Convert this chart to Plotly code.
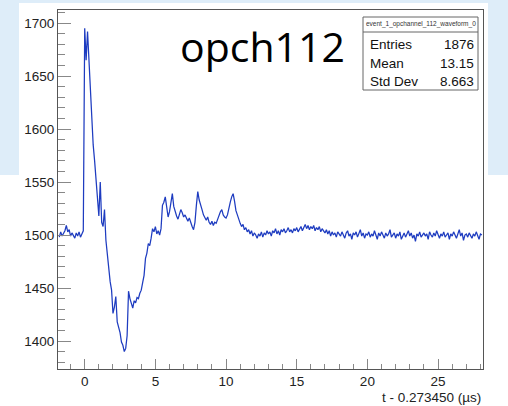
import plotly.graph_objects as go

# ---- data ----
t_start = -1.8
t_step = 0.1
adc = [
    # -1.8 .. -0.1
    1498, 1503, 1499, 1501, 1504, 1509, 1503, 1505, 1499, 1502, 1500, 1497, 1502, 1499, 1503, 1498, 1501, 1504,
    # 0.0 .. 0.9
    1695, 1665, 1692, 1665, 1630, 1600, 1585, 1570, 1555, 1538,
    # 1.0 .. 1.9
    1518, 1550, 1512, 1508, 1524, 1495, 1480, 1468, 1456, 1448,
    # 2.0 .. 2.9
    1426, 1432, 1442, 1418, 1414, 1408, 1399, 1396, 1390, 1393,
    # 3.0 .. 3.9
    1405, 1447, 1440, 1435, 1431, 1438, 1436, 1441, 1440, 1445,
    # 4.0 .. 4.9
    1448, 1455, 1462, 1478, 1483, 1492, 1490, 1497, 1506, 1503,
    # 5.0 .. 5.9
    1508, 1501, 1504, 1500, 1506, 1528, 1531, 1536, 1526, 1517,
    # 6.0 .. 6.9
    1522, 1530, 1539, 1527, 1522, 1518, 1515, 1519, 1524, 1521,
    # 7.0 .. 7.9
    1517, 1519, 1515, 1513, 1516, 1511, 1508, 1505, 1512, 1528,
    # 8.0 .. 8.9
    1541, 1533, 1527, 1524, 1519, 1516, 1514, 1517, 1512, 1510,
    # 9.0 .. 9.9
    1513, 1509, 1512, 1511, 1515, 1518, 1522, 1524, 1519, 1517,
    # 10.0 .. 10.9
    1516, 1519, 1526, 1531, 1536, 1539, 1532, 1523, 1519, 1514,
    # 11.0 .. 11.9
    1511, 1508, 1510, 1505, 1507, 1503, 1505, 1501, 1504, 1499,
    # 12.0 .. 12.9
    1502, 1500, 1497, 1501, 1499, 1503, 1498, 1502, 1500, 1504,
    # 13.0 .. 13.9
    1501, 1503, 1499, 1504, 1502, 1506, 1501, 1504, 1500, 1505,
    # 14.0 .. 14.9
    1503, 1506, 1502, 1504, 1507, 1503, 1505, 1502, 1506, 1504,
    # 15.0 .. 15.9
    1507, 1503, 1505, 1508, 1504, 1507, 1510, 1506, 1509, 1505,
    # 16.0 .. 16.9
    1508, 1506, 1509, 1504, 1507, 1505, 1508, 1503, 1506, 1504,
    # 17.0 .. 17.9
    1502, 1505, 1501, 1504, 1499, 1503, 1500, 1502, 1498, 1503,
    # 18.0 .. 18.9
    1501, 1499, 1503, 1500, 1497, 1502, 1504, 1499, 1501, 1496,
    # 19.0 .. 19.9
    1502, 1500, 1503, 1498, 1501, 1505, 1499, 1502, 1497, 1501,
    # 20.0 .. 20.9
    1500, 1503, 1498, 1501, 1499, 1504, 1500, 1496, 1502, 1499,
    # 21.0 .. 21.9
    1503, 1500, 1497, 1502, 1499, 1501, 1505, 1498, 1500, 1502,
    # 22.0 .. 22.9
    1497, 1501, 1499, 1503, 1496, 1500, 1502, 1498, 1501, 1504,
    # 23.0 .. 23.9
    1499, 1502, 1497, 1500, 1494, 1501, 1499, 1503, 1498, 1500,
    # 24.0 .. 24.9
    1502, 1499, 1501, 1496, 1503, 1500, 1498, 1502, 1499, 1504,
    # 25.0 .. 25.9
    1500, 1497, 1501, 1499, 1503, 1498, 1500, 1502, 1496, 1501,
    # 26.0 .. 26.9
    1499, 1503, 1500, 1497, 1501, 1505, 1499, 1502, 1495, 1500,
    # 27.0 .. 27.9
    1501, 1498, 1502, 1500, 1497, 1501, 1499, 1503, 1500, 1496,
    # 28.0 .. 28.1
    1501, 1500,
]
t = [round(t_start + t_step * i, 4) for i in range(len(adc))]

title_text = "opch112"
stats_name = "event_1_opchannel_112_waveform_0"
stats_labels = ["Entries", "Mean", "Std Dev"]
stats_values = ["1876", "13.15", "8.663"]
x_title = "t - 0.273450 (\u00b5s)"

# ---- layout geometry (pixels) ----
W, H = 508, 406
L, R, T, B = 58, 25, 10, 37
PW, PH = W - L - R, H - T - B


def px(xp):
    return (xp - L) / PW


def py(yp):
    return (H - B - yp) / PH


fig = go.Figure()
fig.add_trace(go.Scatter(x=t, y=adc, mode="lines",
                         line=dict(color="rgb(30,60,192)", width=1.25),
                         hoverinfo="skip", showlegend=False))

ROOT_FONT = "Liberation Sans, Arial, Helvetica, sans-serif"
axis_common = dict(showline=True, linecolor="#555", linewidth=1, mirror=True,
                   showgrid=False, zeroline=False, ticks="inside",
                   tickcolor="#888", tickwidth=1,
                   tickfont=dict(family=ROOT_FONT, size=13.5, color="#222"))

fig.update_xaxes(range=[-1.89, 28.18], dtick=5, tick0=0, ticklen=10,
                 minor=dict(ticks="inside", dtick=1, ticklen=5, tickcolor="#888"),
                 **axis_common)
fig.update_yaxes(range=[1373.6, 1712.3], dtick=50, tick0=0, ticklen=13,
                 minor=dict(ticks="inside", dtick=10, ticklen=7, tickcolor="#888"),
                 **axis_common)

shapes = []
bg = "#deedf9"
# slide background around the canvas
shapes.append(dict(type="rect", xref="paper", yref="paper", x0=px(0), x1=px(W), y0=py(0), y1=py(3),
                   fillcolor=bg, line_width=0, layer="below"))
shapes.append(dict(type="rect", xref="paper", yref="paper", x0=px(0), x1=px(19), y0=py(0), y1=py(175),
                   fillcolor=bg, line_width=0, layer="below"))
shapes.append(dict(type="rect", xref="paper", yref="paper", x0=px(488), x1=px(W), y0=py(0), y1=py(175),
                   fillcolor=bg, line_width=0, layer="below"))
# stats box
shapes.append(dict(type="rect", xref="paper", yref="paper", x0=px(363), x1=px(478), y0=py(17), y1=py(90),
                   fillcolor="white", line=dict(color="#666", width=1), layer="above"))
shapes.append(dict(type="line", xref="paper", yref="paper", x0=px(363), x1=px(478), y0=py(32), y1=py(32),
                   line=dict(color="#666", width=1), layer="above"))

ann = []
ann.append(dict(text=title_text, xref="paper", yref="paper", x=px(262), y=py(46),
                xanchor="center", yanchor="middle", showarrow=False,
                font=dict(family="Open Sans, sans-serif", size=41, color="black")))
ann.append(dict(text=stats_name, xref="paper", yref="paper", x=px(420.5), y=py(24.5),
                xanchor="center", yanchor="middle", showarrow=False,
                font=dict(family=ROOT_FONT, size=6.5, color="#333")))
rows_y = [45, 63, 81]
for lab, val, yy in zip(stats_labels, stats_values, rows_y):
    ann.append(dict(text=lab, xref="paper", yref="paper", x=px(368), y=py(yy),
                    xanchor="left", yanchor="middle", showarrow=False,
                    font=dict(family=ROOT_FONT, size=13.5, color="#111")))
    ann.append(dict(text=val, xref="paper", yref="paper", x=px(476), y=py(yy),
                    xanchor="right", yanchor="middle", showarrow=False,
                    font=dict(family=ROOT_FONT, size=13.5, color="#111")))
ann.append(dict(text=x_title, xref="paper", yref="paper", x=px(483), y=py(397),
                xanchor="right", yanchor="middle", showarrow=False,
                font=dict(family=ROOT_FONT, size=13.5, color="#222")))

fig.update_layout(width=W, height=H, margin=dict(l=L, r=R, t=T, b=B, pad=0),
                  paper_bgcolor="white", plot_bgcolor="white",
                  shapes=shapes, annotations=ann, showlegend=False)

fig.write_html("out.html")
